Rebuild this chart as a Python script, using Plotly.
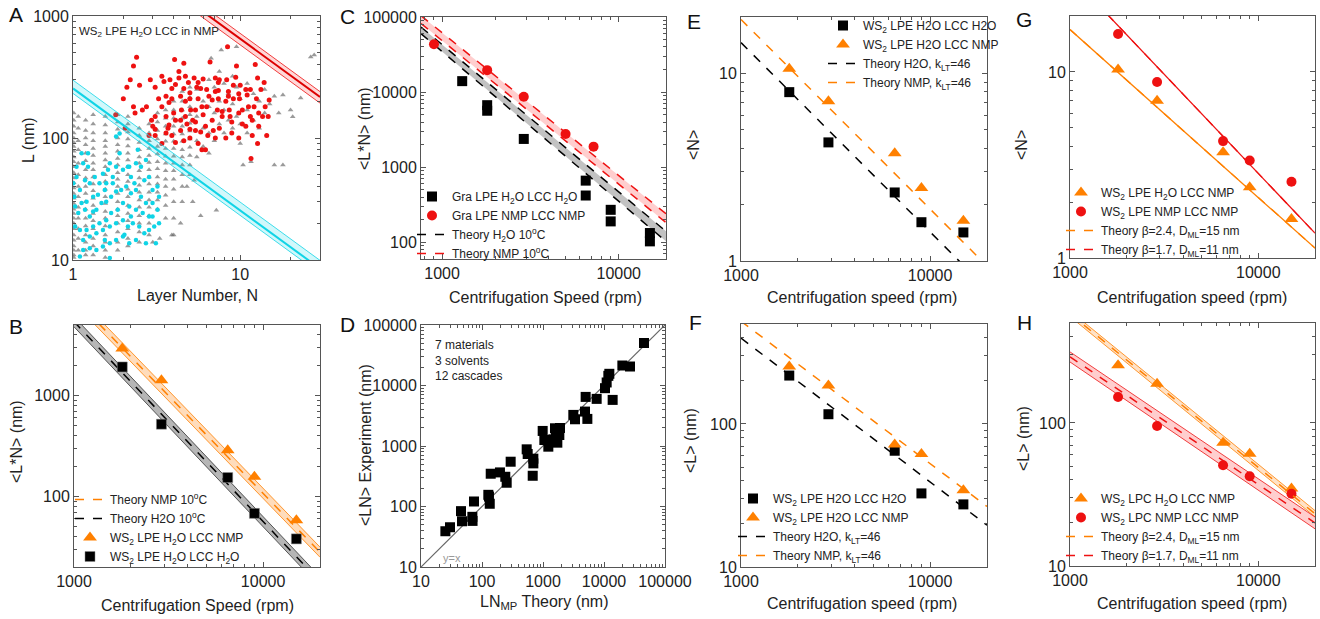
import math
import plotly.graph_objects as go

# ---------------- Panel A data ----------------
A_gray_col_N = [1.01, 1.075, 1.19, 1.32, 1.56, 1.85, 2.13, 2.49, 2.85, 3.2, 3.58, 4.0, 4.5, 5.0]
A_gray_col_L = [
    [160, 140, 125, 110, 100, 92, 85, 78, 70, 64, 58, 52, 47, 43, 39, 35, 32, 29, 26, 24, 22, 20, 18, 16, 14.5, 13, 12, 11, 10.5],
    [150, 120, 95, 80, 62, 50, 40, 33, 27, 22, 18, 15, 12],
    [140, 115, 100, 88, 75, 65, 55, 47, 40, 35, 30, 26, 22, 19, 16, 14, 12, 11],
    [155, 130, 110, 95, 82, 72, 62, 55, 48, 42, 37, 32, 28, 24, 21, 18, 15, 13, 11],
    [150, 128, 110, 95, 85, 75, 66, 58, 50, 44, 38, 33, 29, 25, 22, 19, 16, 14, 12, 10.5],
    [155, 135, 118, 100, 88, 78, 68, 60, 52, 46, 40, 35, 30, 26, 23, 20, 17, 14, 12],
    [150, 130, 112, 98, 86, 75, 66, 58, 50, 44, 38, 33, 28, 24, 21, 18, 15, 13],
    [120, 105, 92, 80, 70, 62, 54, 47, 41, 36, 31, 27, 23, 20, 17, 14],
    [130, 110, 95, 82, 72, 63, 55, 48, 42, 36, 31, 27, 23, 20, 16],
    [160, 135, 115, 98, 85, 74, 64, 56, 48, 42, 36, 31, 26],
    [170, 145, 125, 108, 94, 82, 71, 62, 54, 46, 40, 34, 28, 22],
    [200, 170, 145, 125, 108, 94, 82, 71, 62, 54, 46, 38, 30, 22, 16],
    [240, 200, 170, 145, 125, 108, 94, 80, 70, 60, 50, 40, 30],
    [260, 215, 180, 155, 132, 114, 98, 84, 72, 60, 50],
]
A_gray_extra_N = [5.5, 5.5, 5.5, 5.5, 6, 6, 6, 6.5, 6.5, 6.5, 6.5, 7, 7, 7, 7.5, 7.5, 7.5, 8, 8, 8, 8.5, 8.5,
                  9, 9, 9, 9.5, 9.5, 10, 10, 10, 11, 11, 11, 12, 12, 13, 13, 14, 14, 15, 16, 17, 18, 20, 20.6,
                  23, 26.4, 27.7, 16, 18, 10.4, 11.6, 7.2, 5.8, 7.7, 6.7, 9.5, 5.2, 4.4, 3.9, 4.8, 5.3, 3.3, 3.0]
A_gray_extra_L = [250, 150, 95, 70, 200, 120, 85, 300, 180, 110, 75, 260, 160, 95, 350, 200, 130, 280, 170, 110, 230, 140,
                  320, 190, 120, 260, 150, 210, 130, 90, 280, 170, 110, 230, 140, 200, 120, 250, 160, 190, 220, 160, 225, 170, 149,
                  213, 461, 480, 60, 60, 60, 64, 25.6, 23, 527, 450, 560, 30, 20, 16, 40, 45, 15, 14]

A_red_N = [2.4, 2.3, 2.2, 2.1, 2.0, 2.05, 1.8, 2.5, 2.35, 2.3, 2.9, 3.1, 3.4, 3.5, 2.95, 3.0, 3.1, 2.6, 2.75, 3.1,
           3.25, 3.6, 3.75, 3.9, 4.0, 4.05, 4.3, 4.4, 4.1, 3.75, 3.6, 3.4, 3.9, 4.4, 4.45, 4.6, 4.7, 4.9, 5.05, 5.2,
           5.0, 5.4, 5.6, 5.9, 6.2, 5.6, 5.8, 6.0, 6.3, 6.5, 6.6, 6.8, 6.9, 7.3, 7.4, 7.4, 7.5, 7.8, 8.2, 8.4,
           8.5, 8.6, 8.9, 9.4, 9.5, 9.8, 9.9, 10.3, 10.8, 11.2, 11.5, 11.8, 12.3, 12.7, 12.7, 11.6, 13.3, 14.1, 14.4, 14.7,
           14.9, 13.9, 12.5, 11.0, 10.0, 9.1, 8.3, 7.1, 6.0, 5.3, 4.7, 4.3, 4.6, 4.1, 3.6, 3.4, 4.7, 5.4, 6.2, 6.8,
           7.5, 8.9, 9.8, 10.8, 11.8, 12.9, 9.1, 8.2, 7.1, 6.3, 5.5, 5.0, 5.9, 5.4, 4.8, 4.4, 7.8, 8.7, 10.3, 12.1,
           12.9, 13.6, 7.1, 6.4, 5.8, 5.0, 4.6, 4.1, 3.7, 3.1, 2.85, 11.5, 9.8, 8.5, 7.4, 5.6, 5.0, 3.9, 3.8]
A_red_L = [460, 390, 300, 260, 210, 120, 155, 270, 160, 180, 300, 260, 320, 290, 140, 125, 105, 170, 180, 150,
           210, 220, 195, 255, 160, 440, 310, 220, 140, 128, 110, 90, 105, 115, 170, 255, 200, 285, 170, 140,
           100, 115, 90, 80, 80, 210, 255, 155, 180, 220, 420, 140, 115, 170, 285, 210, 300, 150, 100, 560,
           240, 170, 135, 315, 390, 160, 210, 130, 250, 180, 150, 105, 400, 310, 90, 68, 250, 180, 105, 150,
           205, 285, 210, 225, 270, 270, 300, 310, 305, 310, 320, 350, 410, 275, 150, 180, 150, 170, 125, 205,
           120, 110, 100, 125, 140, 160, 210, 200, 240, 250, 260, 235, 180, 135, 130, 140, 165, 150, 170, 180,
           125, 150, 100, 105, 112, 118, 95, 92, 120, 118, 105, 250, 230, 220, 245, 285, 210, 210, 300]

A_cyan_N = [1.125, 1.15, 1.23, 1.05, 1.18, 1.005, 1.10, 1.26, 1.35, 1.44, 1.51, 1.62, 1.66, 1.73, 1.81, 1.90, 1.99, 2.13,
            2.22, 2.38, 2.44, 2.55, 2.73, 2.67, 2.85, 2.99, 3.20, 1.90, 1.81, 1.73, 1.55, 1.41, 1.32, 1.205, 1.125, 1.03,
            1.075, 1.18, 1.26, 1.38, 1.48, 1.58, 1.69, 1.81, 1.94, 2.08, 2.22, 2.38, 2.55, 2.73, 2.99, 3.20, 2.85, 2.61,
            2.38, 2.17, 1.99, 1.85, 1.69, 1.58, 1.44, 1.32, 1.205, 1.10, 1.03, 1.15, 1.26, 1.38, 1.51, 1.66, 1.81, 1.99,
            2.13, 2.28, 2.49, 2.67, 2.85, 3.06, 3.27, 3.13, 2.73, 2.38, 2.17, 1.99, 1.81, 1.66, 1.51, 1.38, 1.26, 1.15,
            1.10, 1.66, 2.03, 1.55, 1.32, 2.17, 2.33, 1.02, 1.05, 1.23, 1.58, 2.22, 2.99, 3.27]
A_cyan_L = [75, 62, 58, 48, 45, 42.5, 37.5, 42.5, 48, 42.5, 51, 55, 62, 48, 58, 75, 55, 58,
            48, 62, 80, 58, 66, 45, 48, 37.5, 40, 109, 103, 42.5, 37.5, 34.2, 33, 30, 29.3, 27.5,
            24.3, 25.8, 22.7, 25.8, 29.3, 30, 33, 36.4, 37.5, 40, 35.3, 37.5, 33, 29.3, 29.3, 25.8, 22.7, 24.3,
            25.8, 27.5, 29.3, 25.8, 24.3, 21.2, 20, 18.8, 17.6, 17.6, 18.8, 14.6, 15.6, 16.6, 17.6, 18.8, 20, 21.2,
            18.8, 20, 18.8, 16.6, 17.6, 18.8, 20, 13.7, 13.7, 14.6, 13.7, 15.6, 14.6, 13.7, 12.9, 12.1, 12.5, 12.1,
            10.7, 10.4, 16.1, 14.6, 25, 58, 42.5, 33, 58, 75, 42.5, 22.7, 22.7, 33]

A_theory_N = [1, 30]
A_cyan_center = [255, 8.5]
A_cyan_upper = [298, 9.93]
A_cyan_lower = [232, 7.73]
A_red_center = [6500, 216.7]
A_red_upper = [7200, 240]
A_red_lower = [5800, 193.3]

# ---------------- Panel B data ----------------
B_speed = [1800, 2900, 6500, 9000, 15000]
B_nmp = [2920, 1420, 287, 157, 58]
B_h2o = [1920, 520, 154, 68, 38]
B_theory_x = [1000, 20000]
B_nmp_center = [9250, 28]
B_nmp_upper = [10400, 31.5]
B_nmp_lower = [8250, 25]
B_h2o_center = [5400, 14.3]
B_h2o_upper = [6050, 16]
B_h2o_lower = [4800, 12.7]

# ---------------- Panel C data ----------------
C_h2o_x = [1300, 1800, 1800, 2900, 6500, 6500, 9000, 9000, 15000, 15000]
C_h2o_y = [14000, 6700, 5650, 2380, 663, 420, 271, 190, 133, 103]
C_nmp_x = [900, 1800, 2900, 5000, 7200]
C_nmp_y = [43400, 19600, 8670, 2770, 1880]
C_theory_x = [760, 18500]
C_h2o_upper = [73600, 140]
C_h2o_lower = [60000, 103]
C_nmp_upper = [104000, 240]
C_nmp_lower = [82000, 183]

# ---------------- Panel D data ----------------
D_theory = [25.1, 29.9, 45.3, 47, 69.5, 70, 74, 127, 130, 134, 139, 197, 241, 254, 295, 540, 561, 678, 695, 695,
            988, 1052, 1223, 1476, 1573, 1633, 1718, 1853, 1900, 3141, 3346, 4883, 5336, 5003, 7580, 10380, 11060,
            11780, 12230, 13860, 20000, 26700, 45300]
D_exp = [39, 45.4, 83.8, 57, 67.5, 57.8, 121, 156, 146, 111, 348, 366, 310, 247, 550, 881, 737, 322, 516, 617,
         1774, 1257, 975, 1290, 1963, 1622, 1135, 1520, 1986, 3266, 2766, 3706, 2804, 6480, 6010, 9030, 11220,
         14450, 15610, 5780, 21400, 20600, 50400]
D_line = [10, 100000]

# ---------------- Panel E / F data ----------------
EF_speed = [1800, 2900, 6500, 9000, 15000]
E_h2o_N = [7.95, 4.29, 2.32, 1.61, 1.42]
E_nmp_N = [10.6, 7.1, 3.76, 2.45, 1.64]
EF_theory_x = [1000, 20000]
E_h2o_theory = [14.6, 0.71]
E_nmp_theory = [19.4, 0.94]
F_h2o_L = [218, 117, 65, 32.7, 27.4]
F_nmp_L = [252, 186, 72, 61.6, 34.4]
F_h2o_theory = [398, 19.6]
F_nmp_theory = [523, 26.5]

# ---------------- Panel G / H data ----------------
GH_speed = [1800, 2900, 6500, 9000, 15000]
G_h2o_N = [10.3, 7.0, 3.70, 2.40, 1.62]
G_nmp_N = [16.0, 8.84, 4.25, 3.34, 2.57]
GH_theory_x = [1000, 20000]
G_orange_theory = [16.9, 1.13]
G_red_theory = [33.2, 1.36]
H_h2o_L = [253, 188, 72.8, 61, 34.8]
H_nmp_L = [152, 95.3, 50.6, 42.4, 32]
H_orange_center = [581, 23.2]
H_orange_upper = [608, 24.4]
H_orange_lower = [555, 22.1]
H_red_center = [290, 20]
H_red_upper = [314, 22]
H_red_lower = [267, 18.2]

# ---------------- styling ----------------
W, H = 1320, 619
FONT = "Liberation Sans, Arial, sans-serif"
ORANGE = "#ff8000"
RED = "#ee1111"
CYAN = "#10d4e6"
BLACK = "#000000"
FRAME = "#555555"
TXT = "#222222"


def px(x):
    return x / W


def py(y):
    return 1 - y / H


fig = go.Figure()


def add(tr, k):
    ax = "" if k == 1 else str(k)
    tr.update(xaxis="x" + ax, yaxis="y" + ax)
    fig.add_trace(tr)


def band(k, x, lo, hi, color, fill, dash=None, width=0.8):
    add(go.Scatter(x=x, y=lo, mode="lines", line=dict(color=color, width=width, dash=dash),
                   showlegend=False, hoverinfo="skip"), k)
    add(go.Scatter(x=x, y=hi, mode="lines", line=dict(color=color, width=width, dash=dash),
                   fill="tonexty", fillcolor=fill, showlegend=False, hoverinfo="skip"), k)


# ---- A ----
gN, gL = [], []
for n, ls in zip(A_gray_col_N, A_gray_col_L):
    gN += [n] * len(ls)
    gL += ls
gN += A_gray_extra_N
gL += A_gray_extra_L
add(go.Scatter(x=gN, y=gL, mode="markers", marker=dict(symbol="triangle-up", size=5, color="rgba(100,100,100,0.65)"),
               showlegend=False), 1)
add(go.Scatter(x=A_cyan_N, y=A_cyan_L, mode="markers", marker=dict(size=4.5, color=CYAN), showlegend=False), 1)
add(go.Scatter(x=A_red_N, y=A_red_L, mode="markers", marker=dict(size=5, color=RED), showlegend=False), 1)
band(1, A_theory_N, A_cyan_lower, A_cyan_upper, CYAN, "rgba(0,215,235,0.18)")
add(go.Scatter(x=A_theory_N, y=A_cyan_center, mode="lines", line=dict(color=CYAN, width=2), showlegend=False), 1)
band(1, A_theory_N, A_red_lower, A_red_upper, RED, "rgba(255,40,40,0.18)")
add(go.Scatter(x=A_theory_N, y=A_red_center, mode="lines", line=dict(color="#dd0000", width=2), showlegend=False), 1)

# ---- B ----
band(2, B_theory_x, B_nmp_lower, B_nmp_upper, ORANGE, "rgba(255,140,30,0.3)")
band(2, B_theory_x, B_h2o_lower, B_h2o_upper, "#333333", "rgba(110,110,110,0.5)")
add(go.Scatter(x=B_theory_x, y=B_nmp_center, mode="lines", line=dict(color=ORANGE, width=1.5, dash="dash"),
               name="Theory NMP 10<sup>o</sup>C", legend="legend"), 2)
add(go.Scatter(x=B_theory_x, y=B_h2o_center, mode="lines", line=dict(color=BLACK, width=1.5, dash="dash"),
               name="Theory H2O 10<sup>o</sup>C", legend="legend"), 2)
add(go.Scatter(x=B_speed, y=B_nmp, mode="markers", marker=dict(symbol="triangle-up", size=12, color=ORANGE),
               name="WS<sub>2</sub> LPE H<sub>2</sub>O LCC NMP", legend="legend"), 2)
add(go.Scatter(x=B_speed, y=B_h2o, mode="markers", marker=dict(symbol="square", size=10, color=BLACK,
               line=dict(color="#888", width=0.5)),
               name="WS<sub>2</sub> LPE H<sub>2</sub>O LCC H<sub>2</sub>O", legend="legend"), 2)

# ---- C ----
band(3, C_theory_x, C_h2o_lower, C_h2o_upper, BLACK, "rgba(120,120,120,0.45)", dash="dash", width=1.5)
band(3, C_theory_x, C_nmp_lower, C_nmp_upper, RED, "rgba(255,60,60,0.25)", dash="dash", width=1.5)
add(go.Scatter(x=C_h2o_x, y=C_h2o_y, mode="markers", marker=dict(symbol="square", size=10, color=BLACK),
               name="Gra LPE H<sub>2</sub>O LCC H<sub>2</sub>O", legend="legend2"), 3)
add(go.Scatter(x=C_nmp_x, y=C_nmp_y, mode="markers", marker=dict(symbol="circle", size=10, color=RED),
               name="Gra LPE NMP LCC NMP", legend="legend2"), 3)
add(go.Scatter(x=[None], y=[None], mode="lines", line=dict(color=BLACK, width=1.5, dash="dash"),
               name="Theory H<sub>2</sub>O 10<sup>o</sup>C", legend="legend2"), 3)
add(go.Scatter(x=[None], y=[None], mode="lines", line=dict(color=RED, width=1.5, dash="dash"),
               name="Theory NMP 10<sup>o</sup>C", legend="legend2"), 3)

# ---- D ----
add(go.Scatter(x=D_line, y=D_line, mode="lines", line=dict(color="#666666", width=1.2), showlegend=False), 4)
add(go.Scatter(x=D_theory, y=D_exp, mode="markers", marker=dict(symbol="square", size=10, color=BLACK),
               showlegend=False), 4)

# ---- E ----
add(go.Scatter(x=EF_speed, y=E_h2o_N, mode="markers", marker=dict(symbol="square", size=10, color=BLACK),
               name="WS<sub>2</sub> LPE H2O LCC H2O", legend="legend3"), 5)
add(go.Scatter(x=EF_speed, y=E_nmp_N, mode="markers", marker=dict(symbol="triangle-up", size=12, color=ORANGE),
               name="WS<sub>2</sub> LPE H2O LCC NMP", legend="legend3"), 5)
add(go.Scatter(x=EF_theory_x, y=E_h2o_theory, mode="lines", line=dict(color=BLACK, width=1.5, dash="dash"),
               name="Theory H2O, k<sub>LT</sub>=46", legend="legend3"), 5)
add(go.Scatter(x=EF_theory_x, y=E_nmp_theory, mode="lines", line=dict(color=ORANGE, width=1.5, dash="dash"),
               name="Theory NMP, k<sub>LT</sub>=46", legend="legend3"), 5)

# ---- F ----
add(go.Scatter(x=EF_speed, y=F_h2o_L, mode="markers", marker=dict(symbol="square", size=10, color=BLACK),
               name="WS<sub>2</sub> LPE H2O LCC H2O", legend="legend4"), 6)
add(go.Scatter(x=EF_speed, y=F_nmp_L, mode="markers", marker=dict(symbol="triangle-up", size=12, color=ORANGE),
               name="WS<sub>2</sub> LPE H2O LCC NMP", legend="legend4"), 6)
add(go.Scatter(x=EF_theory_x, y=F_h2o_theory, mode="lines", line=dict(color=BLACK, width=1.5, dash="dash"),
               name="Theory H2O, k<sub>LT</sub>=46", legend="legend4"), 6)
add(go.Scatter(x=EF_theory_x, y=F_nmp_theory, mode="lines", line=dict(color=ORANGE, width=1.5, dash="dash"),
               name="Theory NMP, k<sub>LT</sub>=46", legend="legend4"), 6)

# ---- G ----
add(go.Scatter(x=GH_theory_x, y=G_orange_theory, mode="lines", line=dict(color=ORANGE, width=1.3),
               showlegend=False), 7)
add(go.Scatter(x=GH_theory_x, y=G_red_theory, mode="lines", line=dict(color=RED, width=1.3),
               showlegend=False), 7)
add(go.Scatter(x=GH_speed, y=G_h2o_N, mode="markers", marker=dict(symbol="triangle-up", size=12, color=ORANGE),
               name="WS<sub>2</sub> LPE H<sub>2</sub>O LCC NMP", legend="legend5"), 7)
add(go.Scatter(x=GH_speed, y=G_nmp_N, mode="markers", marker=dict(symbol="circle", size=10, color=RED),
               name="WS<sub>2</sub> LPE NMP LCC NMP", legend="legend5"), 7)
add(go.Scatter(x=GH_theory_x, y=G_orange_theory, mode="lines", line=dict(color=ORANGE, width=1.3, dash="dash"),
               name="Theory β=2.4, D<sub>ML</sub>=15 nm", legend="legend5"), 7)
add(go.Scatter(x=GH_theory_x, y=G_red_theory, mode="lines", line=dict(color=RED, width=1.3, dash="dash"),
               name="Theory β=1.7, D<sub>ML</sub>=11 nm", legend="legend5"), 7)

# ---- H ----
band(8, GH_theory_x, H_orange_lower, H_orange_upper, ORANGE, "rgba(255,140,30,0.25)")
band(8, GH_theory_x, H_red_lower, H_red_upper, RED, "rgba(255,60,60,0.25)")
add(go.Scatter(x=GH_speed, y=H_h2o_L, mode="markers", marker=dict(symbol="triangle-up", size=12, color=ORANGE),
               name="WS<sub>2</sub> LPC H<sub>2</sub>O LCC NMP", legend="legend6"), 8)
add(go.Scatter(x=GH_speed, y=H_nmp_L, mode="markers", marker=dict(symbol="circle", size=10, color=RED),
               name="WS<sub>2</sub> LPC NMP LCC NMP", legend="legend6"), 8)
add(go.Scatter(x=GH_theory_x, y=H_orange_center, mode="lines", line=dict(color=ORANGE, width=1.5, dash="dash"),
               name="Theory β=2.4, D<sub>ML</sub>=15 nm", legend="legend6"), 8)
add(go.Scatter(x=GH_theory_x, y=H_red_center, mode="lines", line=dict(color=RED, width=1.5, dash="dash"),
               name="Theory β=1.7, D<sub>ML</sub>=11 nm", legend="legend6"), 8)

# ---------------- axes ----------------
minor_vals = [m * 10 ** e for e in range(-1, 6) for m in range(2, 10)]
panels = [
    # k, x px, y px, x range, y range, x ticks, y ticks
    (1, (73, 320), (16, 260), (1, 30), (10, 1000), [1, 10], [10, 100, 1000]),
    (2, (74, 320), (325, 567), (1000, 20000), (20, 5000), [1000, 10000], [100, 1000]),
    (3, (421, 666), (17, 259), (760, 18500), (60, 100000), [1000, 10000], [100, 1000, 10000, 100000]),
    (4, (421, 665), (325, 567), (10, 100000), (10, 100000), [10, 100, 1000, 10000, 100000], [10, 100, 1000, 10000, 100000]),
    (5, (741, 987), (17, 261), (1000, 20000), (1, 20), [1000, 10000], [1, 10]),
    (6, (741, 987), (324, 567), (1000, 20000), (10, 500), [1000, 10000], [10, 100]),
    (7, (1070, 1315), (16, 258), (1000, 20000), (1, 20), [1000, 10000], [1, 10]),
    (8, (1070, 1315), (323, 566), (1000, 20000), (10, 500), [1000, 10000], [10, 100]),
]
layout_axes = {}
for k, xp, yp, xr, yr, xt, yt in panels:
    s = "" if k == 1 else str(k)
    common = dict(type="log", showgrid=False, zeroline=False, showline=True, linecolor=FRAME, linewidth=1,
                  mirror="ticks", ticks="inside", ticklen=5, tickcolor=FRAME, automargin=False,
                  tickfont=dict(size=16, color=TXT, family=FONT),
                  minor=dict(ticks="inside", ticklen=3, tickcolor=FRAME, tickvals=minor_vals))
    layout_axes["xaxis" + s] = dict(common, domain=[px(xp[0]), px(xp[1])],
                                    range=[math.log10(xr[0]), math.log10(xr[1])],
                                    tickvals=xt, ticktext=[str(v) for v in xt], anchor="y" + s)
    layout_axes["yaxis" + s] = dict(common, domain=[py(yp[1]), py(yp[0])],
                                    range=[math.log10(yr[0]), math.log10(yr[1])],
                                    tickvals=yt, ticktext=[str(v) for v in yt], anchor="x" + s)

# ---------------- annotations ----------------
ann = []


def text(x, y, t, size=16, angle=0, xanchor="center", color=TXT, align="center"):
    ann.append(dict(x=px(x), y=py(y), xref="paper", yref="paper", text=t, showarrow=False,
                    textangle=angle, xanchor=xanchor, yanchor="middle", align=align,
                    font=dict(size=size, color=color, family=FONT)))


for lab, x, y in [("A", 16, 15), ("B", 16, 326), ("C", 348, 17), ("D", 347, 324),
                  ("E", 694, 22), ("F", 696, 322), ("G", 1024, 20), ("H", 1024, 322)]:
    text(x, y, lab, size=21, color="#111")

text(197, 295, "Layer Number, N")
text(197, 605, "Centrifugation Speed (rpm)")
text(545, 297, "Centrifugation Speed (rpm)")
text(544, 602, "LN<sub>MP</sub> Theory (nm)")
text(862, 297, "Centrifugation speed (rpm)")
text(862, 603, "Centrifugation speed (rpm)")
text(1192, 297, "Centrifugation speed (rpm)")
text(1192, 603, "Centrifugation speed (rpm)")

text(28, 140, "L (nm)", angle=-90)
text(16, 442, "&lt;L*N&gt; (nm)", angle=-90)
text(365, 128, "&lt;L*N&gt; (nm)", angle=-90)
text(365, 445, "&lt;LN&gt; Experiment (nm)", angle=-90)
text(694, 145, "&lt;N&gt;", angle=-90)
text(690, 441, "&lt;L&gt; (nm)", angle=-90)
text(1022, 145, "&lt;N&gt;", angle=-90)
text(1023, 439, "&lt;L&gt; (nm)", angle=-90)

text(77, 32, "WS<sub>2</sub> LPE H<sub>2</sub>O LCC in NMP", size=11.5, xanchor="left")
text(433, 360, "7 materials<br>3 solvents<br>12 cascades", size=12, xanchor="left", align="left")
text(441, 558, "y=x", size=11, xanchor="left", color="#999999")


def leg(x, top):
    return dict(x=px(x), y=py(top), xref="paper", yref="paper", xanchor="left", yanchor="top",
                bgcolor="rgba(0,0,0,0)", font=dict(size=12, color=TXT, family=FONT), tracegroupgap=0,
                traceorder="normal")


fig.update_layout(
    width=W, height=H, margin=dict(l=0, r=0, t=0, b=0, autoexpand=False),
    paper_bgcolor="white", plot_bgcolor="white",
    font=dict(family=FONT, color=TXT),
    annotations=ann,
    legend=leg(70, 485),
    legend2=leg(412, 182),
    legend3=leg(823, 11),
    legend4=leg(733, 484),
    legend5=leg(1061, 178),
    legend6=leg(1061, 484),
    **layout_axes,
)

fig.write_html("out.html", config={"displayModeBar": False},
               post_script="document.body.style.margin='0px';document.body.style.overflow='hidden';")
